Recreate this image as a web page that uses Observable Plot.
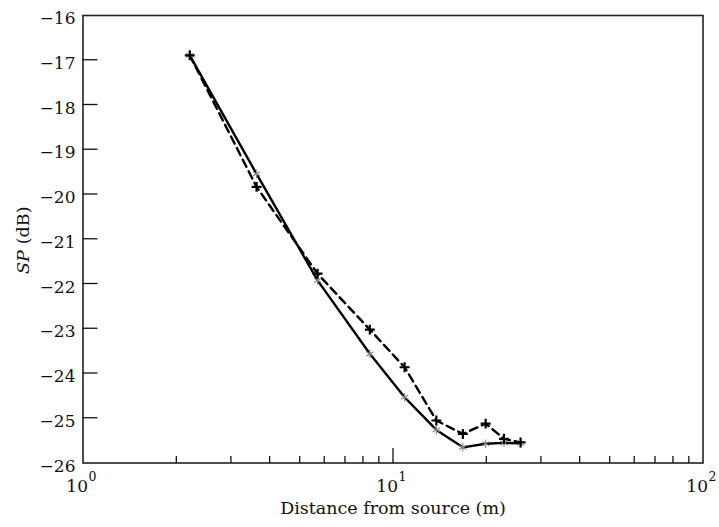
<!DOCTYPE html>
<html>
<head>
<meta charset="utf-8">
<script src="https://cdn.jsdelivr.net/npm/d3@7"></script>
<script src="https://cdn.jsdelivr.net/npm/@observablehq/plot@0.6"></script>
<style>
  html, body { margin: 0; padding: 0; background: #fff; }
  #chart svg { display: block; }
</style>
</head>
<body>
<div id="chart"></div>
<script>
const distance = [2.21, 3.63, 5.71, 8.42, 10.9, 13.8, 16.8, 19.9, 22.8, 25.8];
const solidSP  = [-16.89, -19.54, -21.92, -23.56, -24.53, -25.26, -25.65, -25.57, -25.55, -25.56];
const dashedSP = [-16.89, -19.83, -21.77, -23.02, -23.86, -25.05, -25.35, -25.12, -25.46, -25.54];
const yTicks = [-26, -25, -24, -23, -22, -21, -20, -19, -18, -17, -16];
const yInnerTicks = [-25, -24, -23, -22, -21, -20, -19, -18, -17];
const xMajor = [1, 10, 100];
const xExponent = ["0", "1", "2"];
const xMinor = [2, 3, 4, 5, 6, 7, 8, 9, 20, 30, 40, 50, 60, 70, 80, 90];

const solid = distance.map((d, i) => ({x: d, y: solidSP[i]}));
const dashed = distance.map((d, i) => ({x: d, y: dashedSP[i]}));
const majors = xMajor.map((d, i) => ({x: d, e: xExponent[i]}));
const fmt = v => (v < 0 ? "\u2212" : "") + Math.abs(v);
const font = "DejaVu Serif";

const tickUp = len => ({draw(ctx) { ctx.moveTo(0, 0); ctx.lineTo(0, -len); }});

const chart = Plot.plot({
  width: 719,
  height: 527,
  marginLeft: 82.5,
  marginRight: 16.5,
  marginTop: 15,
  marginBottom: 64.5,
  style: {fontFamily: font, background: "#fff"},
  x: {type: "log", domain: [1, 100], axis: null},
  y: {domain: [-26, -16], axis: null},
  marks: [
    Plot.frame({stroke: "#222", strokeWidth: 1.6, fill: "none"}),
    // x minor and major ticks (inside)
    Plot.dot(xMinor, {x: d => d, frameAnchor: "bottom", symbol: tickUp(7), stroke: "#111", strokeWidth: 1.3, fill: "none"}),
    Plot.dot([10], {x: d => d, frameAnchor: "bottom", symbol: tickUp(15), stroke: "#111", strokeWidth: 1.3, fill: "none"}),
    // lines
    Plot.line(dashed, {x: "x", y: "y", stroke: "#000", strokeWidth: 2.4, strokeDasharray: "8,5"}),
    Plot.line(solid, {x: "x", y: "y", stroke: "#000", strokeWidth: 2.4}),
    Plot.dot(solid, {x: "x", y: "y", symbol: "asterisk", r: 4, stroke: "#888", strokeWidth: 1.1}),
    Plot.dot(dashed, {x: "x", y: "y", symbol: "plus", r: 3.3, stroke: "#000", strokeWidth: 2.2}),
    // y tick labels
    Plot.text(yTicks, {y: d => d, text: d => fmt(d), frameAnchor: "left", textAnchor: "end", lineAnchor: "bottom", dx: -7.5, dy: 8.5, fontSize: 17, fill: "#111"}),
    // x tick labels: 10 with superscript exponent
    Plot.text(majors, {x: "x", text: () => "10", frameAnchor: "bottom", textAnchor: "end", lineAnchor: "bottom", dx: 5, dy: 28.5, fontSize: 17, fill: "#111"}),
    Plot.text(majors, {x: "x", text: "e", frameAnchor: "bottom", textAnchor: "start", lineAnchor: "bottom", dx: 5.5, dy: 17.5, fontSize: 12.5, fill: "#111"}),
    // x axis label
    Plot.text(["Distance from source (m)"], {text: d => d, frameAnchor: "bottom", lineAnchor: "bottom", dy: 50.5, fontSize: 17.5, fill: "#111"}),
    // y axis label: italic SP and upright (dB)
    Plot.text(["SP"], {text: d => d, frameAnchor: "left", rotate: -90, textAnchor: "end", lineAnchor: "middle", dx: -60, dy: 11, fontSize: 17.5, fontStyle: "italic", fill: "#111"}),
    Plot.text(["(dB)"], {text: d => d, frameAnchor: "left", rotate: -90, textAnchor: "start", lineAnchor: "middle", dx: -60, dy: 5, fontSize: 17.5, fill: "#111"})
  ]
});
document.getElementById("chart").append(chart);

// inward y ticks, positioned through Plot's own scales, appended on top
const xs = chart.scale("x"), ys = chart.scale("y");
const fx = xs.apply ? v => xs.apply(v) : d3.scaleLog(xs.domain, xs.range);
const fy = ys.apply ? v => ys.apply(v) : d3.scaleLinear(ys.domain, ys.range);
const x0 = fx(xMajor[0]);
d3.select(chart).append("g")
  .attr("stroke", "#111")
  .attr("stroke-width", 1.3)
  .selectAll("line")
  .data(yInnerTicks)
  .join("line")
  .attr("x1", x0)
  .attr("x2", x0 + 15)
  .attr("y1", d => fy(d))
  .attr("y2", d => fy(d));
</script>
</body>
</html>
